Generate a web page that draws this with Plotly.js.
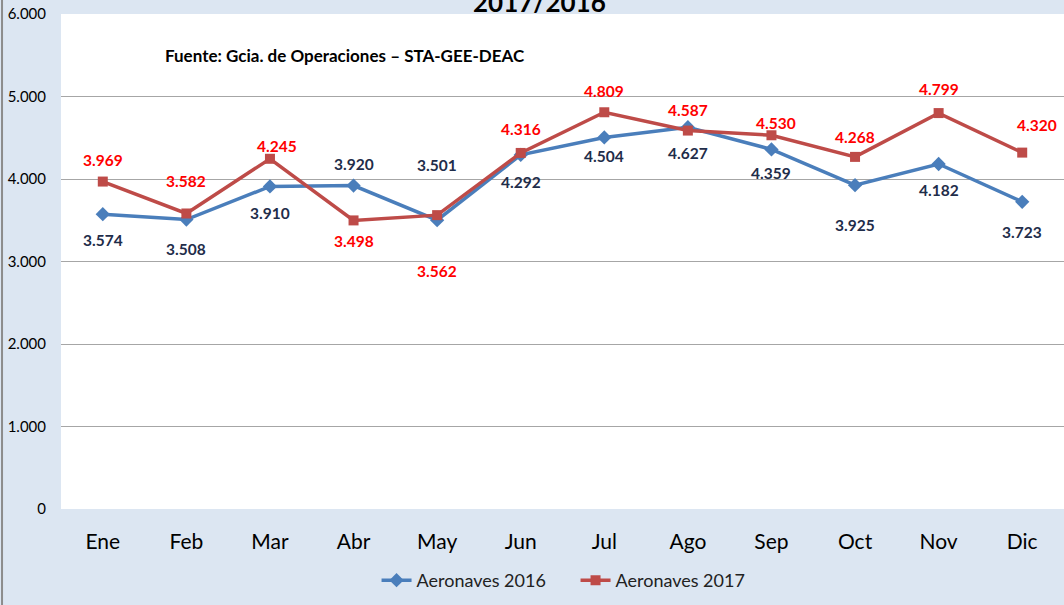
<!DOCTYPE html>
<html>
<head>
<meta charset="utf-8">
<script src="https://cdn.plot.ly/plotly-3.0.1.min.js"></script>
<style>html,body{margin:0;padding:0;background:#dce6f2;}#chart{width:1064px;height:605px;}</style>
</head>
<body>
<div id="chart"></div>
<script>
var months = ["Ene","Feb","Mar","Abr","May","Jun","Jul","Ago","Sep","Oct","Nov","Dic"];
var aeronaves2016 = [3574,3508,3910,3920,3501,4292,4504,4627,4359,3925,4182,3723];
var aeronaves2017 = [3969,3582,4245,3498,3562,4316,4809,4587,4530,4268,4799,4320];
var yTicks = [0,1000,2000,3000,4000,5000,6000];

// label offsets (pixels) - styling only
var off2016 = [26,29,27,-22,-55,27,19,26,24,40,26,30];
var off2017 = [-22,-32,-13,21,56,-24,-21,-21,-12,-20,-24,-28];
var dx2017 = [0,0,7,0,0,0,0,0,5,0,0,15];

function fmt(v){
  var s = String(Math.round(v));
  return s.replace(/\B(?=(\d{3})+(?!\d))/g, ".");
}

var FONT = "Lato, 'Open Sans', sans-serif";

var traces = [
  {x: months, y: aeronaves2016, name: "Aeronaves 2016", type: "scatter", mode: "lines+markers",
   line: {color: "#4a7ebb", width: 3.5}, marker: {symbol: "diamond", size: 11, color: "#4a7ebb"}},
  {x: months, y: aeronaves2017, name: "Aeronaves 2017", type: "scatter", mode: "lines+markers",
   line: {color: "#be4b48", width: 3.5}, marker: {symbol: "square", size: 10, color: "#be4b48"}}
];

var ann = [];
months.forEach(function(m, i){
  ann.push({x: m, y: aeronaves2016[i], xref: "x", yref: "y", text: fmt(aeronaves2016[i]),
    showarrow: false, yshift: -off2016[i], font: {family: FONT, size: 15.5, color: "#1f2d4a", weight: "bold"}});
  ann.push({x: m, y: aeronaves2017[i], xref: "x", yref: "y", text: fmt(aeronaves2017[i]),
    showarrow: false, yshift: -off2017[i], xshift: dx2017[i], font: {family: FONT, size: 15.5, color: "#ff0000", weight: "bold"}});
});
ann.push({x: 0.1017, y: 0.917, xref: "paper", yref: "paper", xanchor: "left", yanchor: "middle",
  text: "Fuente: Gcia. de Operaciones – STA-GEE-DEAC", showarrow: false,
  font: {family: FONT, size: 17, color: "#000000", weight: "bold"}});
ann.push({x: 0.477, y: 1, xref: "paper", yref: "paper", xanchor: "center", yanchor: "bottom", yshift: -6,
  text: "2017/2016", showarrow: false, font: {family: FONT, size: 26, color: "#000000", weight: "bold"}});

var layout = {
  width: 1064, height: 605,
  paper_bgcolor: "#dce6f2", plot_bgcolor: "#ffffff",
  margin: {l: 61, r: 0, t: 14, b: 96},
  separators: ",.",
  showlegend: true,
  legend: {orientation: "h", x: 0.3146, xanchor: "left", y: -0.107, yanchor: "top",
    entrywidth: 154, entrywidthmode: "pixels",
    font: {family: FONT, size: 18, color: "#222222"}, bgcolor: "rgba(0,0,0,0)"},
  xaxis: {type: "category", range: [-0.5, 11.5], showgrid: false, zeroline: false, showline: false,
    ticks: "", tickfont: {family: FONT, size: 21, color: "#000000"}, ticklabelstandoff: 18},
  yaxis: {range: [0, 6000], tickvals: yTicks, ticktext: yTicks.map(fmt), showgrid: true,
    gridcolor: "#a6a6a6", gridwidth: 1, zeroline: false, showline: false, ticks: "",
    tickfont: {family: FONT, size: 15, color: "#000000"}, ticklabelstandoff: 14},
  annotations: ann,
  shapes: [{type: "line", xref: "paper", yref: "paper", x0: -0.0588, x1: -0.0588, y0: -0.2, y1: 1.05,
    line: {color: "#8c8c8c", width: 2}}]
};

Plotly.newPlot("chart", traces, layout, {displayModeBar: false});
</script>
</body>
</html>
